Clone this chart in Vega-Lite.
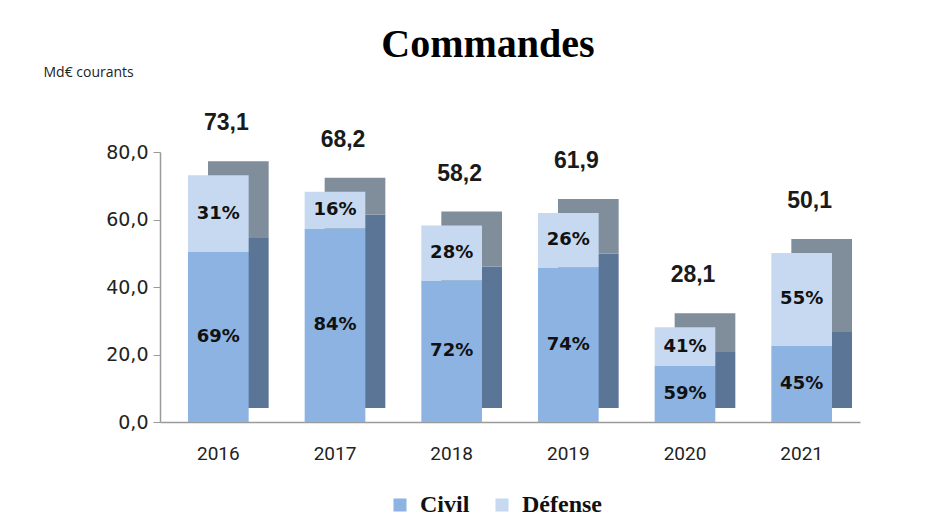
{
  "$schema": "https://vega.github.io/schema/vega-lite/v6.json",
  "width": 700,
  "height": 270,
  "autosize": {"type": "none"},
  "padding": {"left": 160, "top": 152, "right": 67, "bottom": 100},
  "background": "white",
  "config": {
    "view": {"stroke": null},
    "locale": {"number": {"decimal": ",", "thousands": " ", "grouping": [3], "currency": ["", " €"]}}
  },
  "title": {
    "text": "Commandes",
    "font": "Liberation Serif",
    "fontSize": 40,
    "fontWeight": "bold",
    "color": "black",
    "anchor": "middle",
    "dx": -22,
    "offset": 0
  },
  "datasets": {
    "parts": [
      {"year": "2016", "series": "Civil", "value": 50.4, "pct": 0.69},
      {"year": "2016", "series": "Défense", "value": 22.7, "pct": 0.31},
      {"year": "2017", "series": "Civil", "value": 57.3, "pct": 0.84},
      {"year": "2017", "series": "Défense", "value": 10.9, "pct": 0.16},
      {"year": "2018", "series": "Civil", "value": 41.9, "pct": 0.72},
      {"year": "2018", "series": "Défense", "value": 16.3, "pct": 0.28},
      {"year": "2019", "series": "Civil", "value": 45.8, "pct": 0.74},
      {"year": "2019", "series": "Défense", "value": 16.1, "pct": 0.26},
      {"year": "2020", "series": "Civil", "value": 16.6, "pct": 0.59},
      {"year": "2020", "series": "Défense", "value": 11.5, "pct": 0.41},
      {"year": "2021", "series": "Civil", "value": 22.5, "pct": 0.45},
      {"year": "2021", "series": "Défense", "value": 27.6, "pct": 0.55}
    ],
    "totals": [
      {"year": "2016", "total": 73.1},
      {"year": "2017", "total": 68.2},
      {"year": "2018", "total": 58.2},
      {"year": "2019", "total": 61.9},
      {"year": "2020", "total": 28.1},
      {"year": "2021", "total": 50.1}
    ]
  },
  "encoding": {
    "x": {
      "field": "year",
      "type": "ordinal",
      "scale": {"paddingInner": 0.48, "paddingOuter": 0.24},
      "axis": {
        "title": null,
        "labelAngle": 0,
        "labelFont": "Roboto",
        "labelFontSize": 19,
        "labelColor": "#222222",
        "labelPadding": 22,
        "ticks": false,
        "domainColor": "#9a9a9a",
        "domainWidth": 1.5
      }
    }
  },
  "layer": [
    {
      "data": {"name": "parts"},
      "mark": {"type": "bar", "xOffset": 20, "yOffset": -14},
      "encoding": {
        "y": {"field": "value", "type": "quantitative", "stack": "zero"},
        "order": {"field": "series"},
        "color": {
          "field": "series",
          "type": "nominal",
          "scale": {"domain": ["Civil", "Défense"], "range": ["#5B7597", "#808D9A"]},
          "legend": null
        }
      }
    },
    {
      "data": {"name": "parts"},
      "mark": {"type": "bar"},
      "encoding": {
        "y": {
          "field": "value",
          "type": "quantitative",
          "stack": "zero",
          "scale": {"domain": [0, 80]},
          "axis": {
            "values": [0, 20, 40, 60, 80],
            "format": ".1f",
            "grid": false,
            "labelFont": "DejaVu Sans",
            "labelFontSize": 19,
            "labelColor": "#222222",
            "labelPadding": 5,
            "tickSize": 7,
            "tickColor": "#9a9a9a",
            "domainColor": "#9a9a9a",
            "domainWidth": 1.5,
            "title": "Md€ courants",
            "titleAngle": 0,
            "titleX": -117,
            "titleY": -80,
            "titleAlign": "left",
            "titleBaseline": "middle",
            "titleFont": "Open Sans",
            "titleFontSize": 14,
            "titleFontWeight": "normal",
            "titleColor": "#222222"
          }
        },
        "order": {"field": "series"},
        "color": {
          "field": "series",
          "type": "nominal",
          "scale": {"domain": ["Civil", "Défense"], "range": ["#8DB3E2", "#C6D9F1"]},
          "legend": {
            "title": null,
            "orient": "none",
            "legendX": 228,
            "legendY": 341,
            "direction": "horizontal",
            "symbolType": "square",
            "symbolSize": 170,
            "symbolStrokeWidth": 0,
            "labelFont": "Liberation Serif",
            "labelFontSize": 24,
            "labelFontWeight": "bold",
            "labelColor": "#111111",
            "columnPadding": 20,
            "labelOffset": 8
          }
        }
      }
    },
    {
      "data": {"name": "parts"},
      "mark": {"type": "text", "font": "DejaVu Sans", "fontWeight": "bold", "fontSize": 18, "color": "#111111", "baseline": "middle"},
      "encoding": {
        "y": {"field": "value", "type": "quantitative", "stack": "zero", "bandPosition": 0.5},
        "order": {"field": "series"},
        "detail": {"field": "series"},
        "text": {"field": "pct", "type": "quantitative", "format": ".0%"}
      }
    },
    {
      "data": {"name": "totals"},
      "mark": {"type": "text", "font": "Liberation Sans", "fontWeight": "bold", "fontSize": 23, "color": "#1a1a1a", "baseline": "middle", "dy": -52, "dx": 8},
      "encoding": {
        "y": {"field": "total", "type": "quantitative"},
        "text": {"field": "total", "type": "quantitative", "format": ".1f"}
      }
    }
  ],
  "resolve": {"scale": {"color": "independent"}}
}
